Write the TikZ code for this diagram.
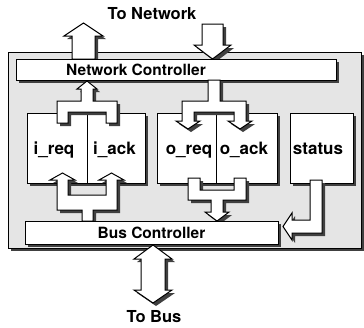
\documentclass[tikz,border=0pt]{standalone}
\usepackage{fontspec}
\setmainfont{TeX Gyre Heros}
\usetikzlibrary{shadows}
\tikzset{
  dropsh/.style={drop shadow={shadow xshift=3pt,shadow yshift=-3pt,fill=black!75,opacity=1}},
  txt/.style={inner sep=0pt,text height=12pt,text depth=0pt,font=\bfseries\fontsize{17}{19}\selectfont},
  ctltxt/.style={txt,font=\bfseries\fontsize{15.5}{18}\selectfont},
  box/.style={draw,fill=white,line width=1pt,dropsh,txt},
  ctl/.style={box,ctltxt},
  blk/.style={draw,fill=white,line width=1pt,line join=miter,dropsh},
  lbl/.style={font=\bfseries\fontsize{16.5}{19}\selectfont}
}
\begin{document}
\begin{tikzpicture}[x=1pt,y=-1pt]
   \useasboundingbox (0,0) rectangle (364,327);
   % board
   \node[draw,fill=gray!20,line width=1pt,dropsh,minimum width=353pt,minimum height=196pt] (board) at (184.5,150) {};
   \node[lbl] (tonet) at (152,14) {To Network};
   \node[lbl] (tobus) at (154,317) {To Bus};
   % to / from network
   \filldraw[blk] (72,59) -- (72,36) -- (64,36) -- (83.5,23) -- (103,36) -- (95,36) -- (95,59) -- cycle;
   \filldraw[blk] (202,24) -- (223,24) -- (223,45) -- (231,45) -- (212.5,59) -- (194,45) -- (202,45) -- cycle;
   \node[ctl,minimum width=320pt,minimum height=21pt,
     label={[ctltxt,xshift=-40pt]center:Network Controller}] (netctl) at (176,69.5) {};
   % buffers
   \node[box,minimum width=60pt,minimum height=70pt,label={[txt,xshift=-3pt]center:i\_req}] (ireq) at (57,148) {};
   \node[box,minimum width=58pt,minimum height=70pt,label={[txt,xshift=-1.5pt]center:i\_ack}] (iack) at (116,148) {};
   \node[box,minimum width=59pt,minimum height=70pt,label={[txt,xshift=2.5pt]center:o\_req}] (oreq) at (186.5,148) {};
   \node[box,minimum width=61pt,minimum height=70pt,label={[txt,xshift=-2.5pt]center:o\_ack}] (oack) at (246.5,148) {};
   \node[box,minimum width=63pt,minimum height=70pt,label={[txt,xshift=-3.5pt]center:status}] (status) at (321.5,148) {};
   % forks
   \filldraw[blk] (87,81) -- (97,89) -- (93,89) -- (93,101) -- (117,101) -- (117,123) -- (106,123) -- (106,112)
      -- (68,112) -- (68,123) -- (57,123) -- (57,101) -- (81,101) -- (81,89) -- (77,89) -- cycle;
   \filldraw[blk] (208,80) -- (220,80) -- (220,101) -- (246,101) -- (246,121) -- (252,121) -- (240,129) -- (228,121)
      -- (234,121) -- (234,112) -- (194,112) -- (194,121) -- (200,121) -- (188,129) -- (176,121) -- (182,121)
      -- (182,101) -- (208,101) -- cycle;
   \filldraw[blk] (82,221) -- (82,210) -- (57,210) -- (57,180) -- (50,180) -- (62.5,173) -- (75,180) -- (68,180)
      -- (68,195) -- (106,195) -- (106,180) -- (99,180) -- (111.5,173) -- (124,180) -- (117,180) -- (117,210)
      -- (93,210) -- (93,221) -- cycle;
   \filldraw[blk] (188,178) -- (200,178) -- (200,190) -- (234,190) -- (234,178) -- (246,178) -- (246,200) -- (223,200)
      -- (223,212) -- (229,212) -- (217,221) -- (205,212) -- (211,212) -- (211,200) -- (188,200) -- cycle;
   \filldraw[blk] (310,180) -- (322,180) -- (322,233) -- (292,233) -- (292,240) -- (283,226.5) -- (292,213)
      -- (292,220) -- (310,220) -- cycle;
   \node[ctl,minimum width=253pt,minimum height=23pt] (busctl) at (151.5,232.5) {Bus Controller};
   % to / from bus
   \filldraw[blk] (153,245) -- (172,259) -- (165,259) -- (165,290) -- (172,290) -- (153,303) -- (134,290)
      -- (141,290) -- (141,259) -- (134,259) -- cycle;
  \end{tikzpicture}
\end{document}
